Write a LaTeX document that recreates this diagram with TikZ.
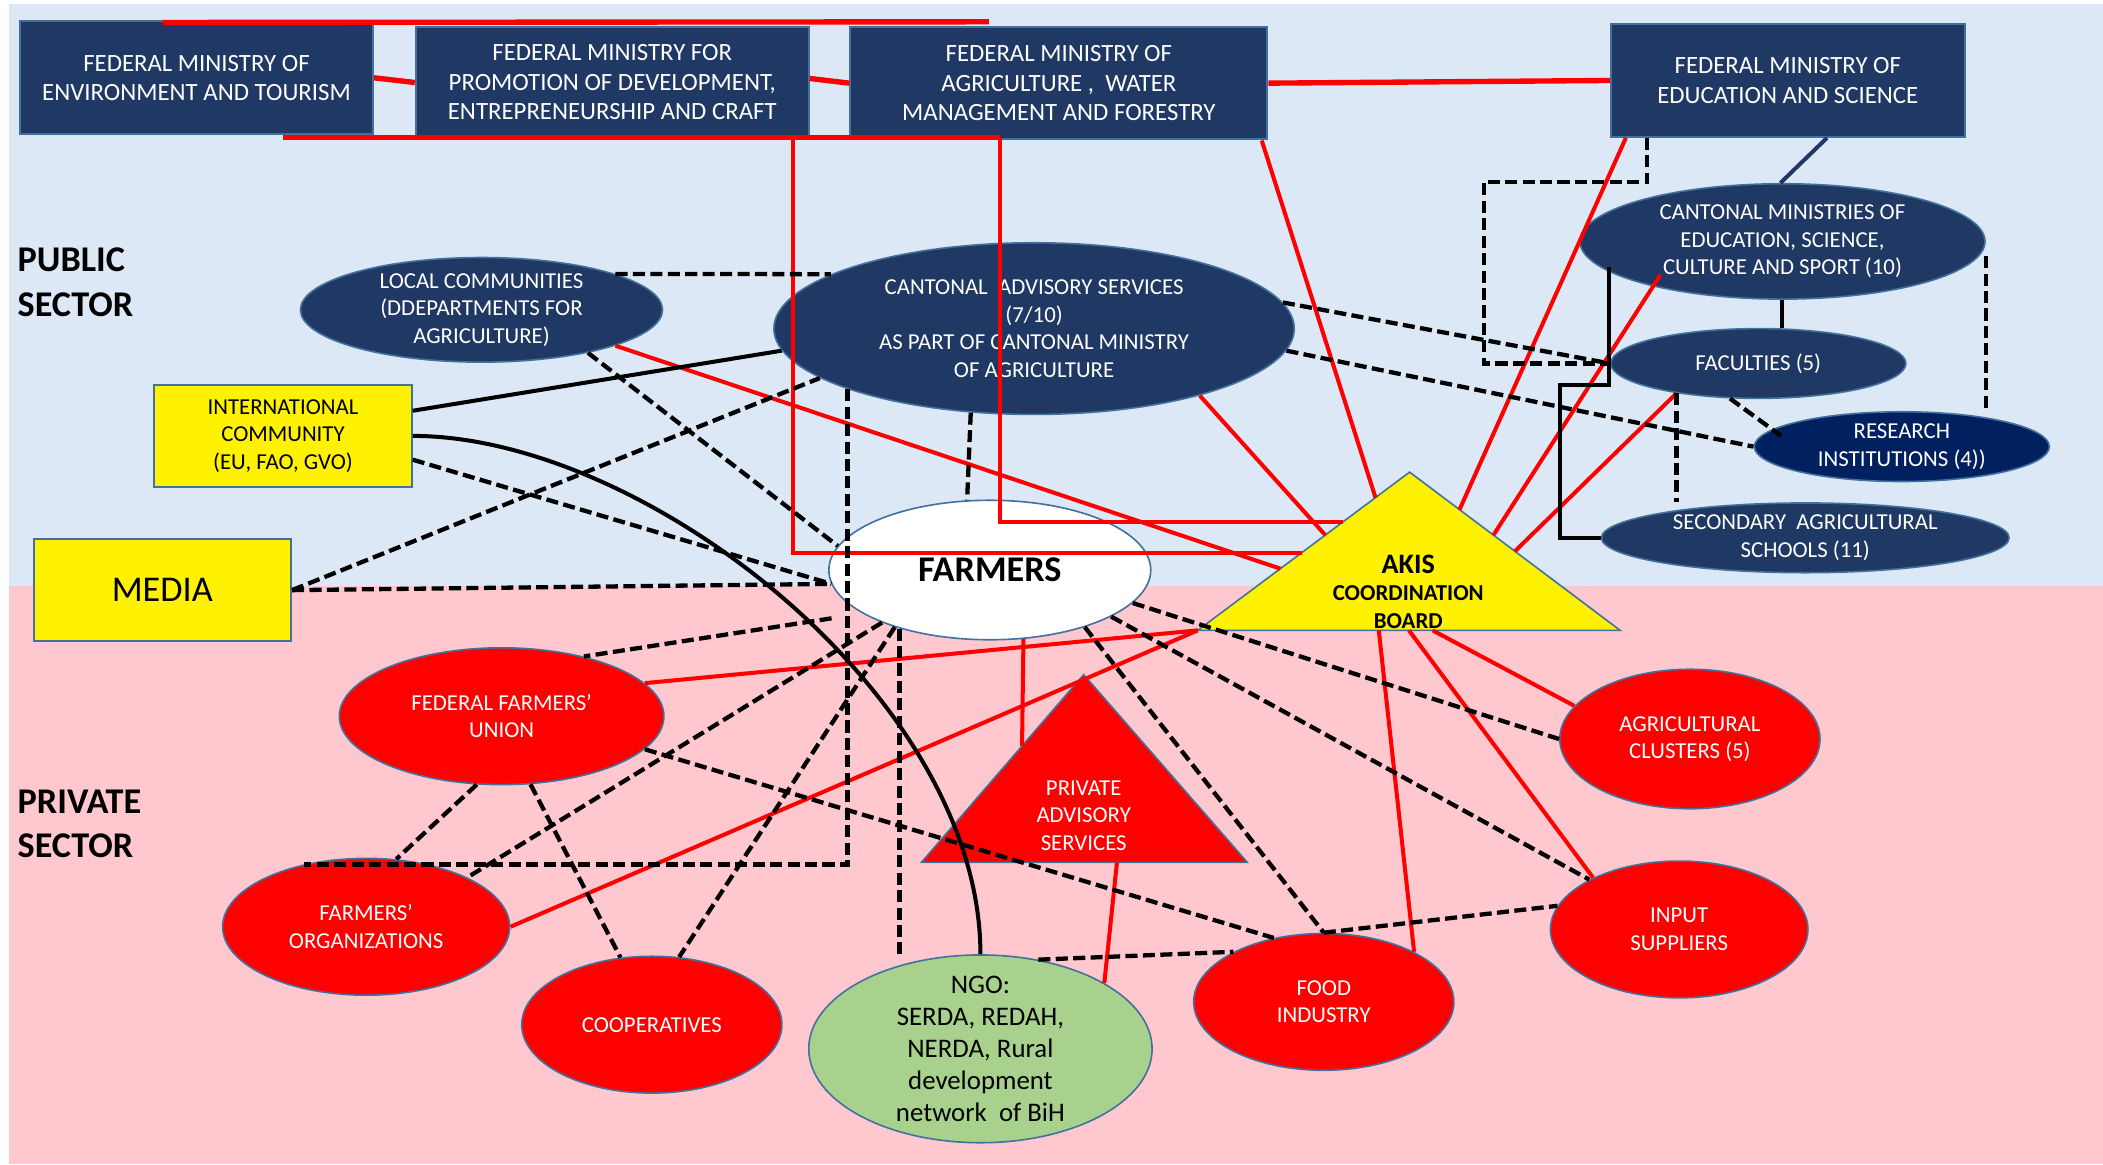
\documentclass[tikz,border=0pt]{standalone}
\usepackage{fontspec}
\setmainfont{Carlito}
\usetikzlibrary{shapes.geometric,calc}
\definecolor{navy}{HTML}{203864}
\definecolor{navyd}{HTML}{002060}
\definecolor{edgeblue}{HTML}{41719C}
\definecolor{bgblue}{HTML}{DDE8F6}
\definecolor{bgpink}{HTML}{FFC8CF}
\definecolor{ngogreen}{HTML}{A9D18E}
\tikzset{
  fs/.style={font=\fontsize{17}{20.5}\selectfont},
  navyell/.style={ellipse, draw=edgeblue, line width=1.2pt, fill=navy, text=white, inner sep=0pt, align=center, fs},
  redell/.style={ellipse, draw=edgeblue, line width=1.2pt, fill=red, text=white, inner sep=0pt, align=center, fs},
  navybox/.style={rectangle, draw=edgeblue, line width=1.5pt, fill=navy, text=white, inner sep=0pt, align=center, font=\fontsize{18.5}{22}\selectfont},
  yelbox/.style={rectangle, draw=edgeblue, line width=1.5pt, fill=yellow, text=black, inner sep=0pt, align=center},
  redln/.style={red, line width=3pt},
  redthick/.style={red, line width=4pt},
  dashln/.style={black, line width=3.2pt, dash pattern=on 9pt off 4pt},
  solidln/.style={black, line width=3pt},
  sector/.style={anchor=west, align=left, inner sep=0pt, font=\bfseries\fontsize{27}{33}\selectfont},
  trifill/.style={draw=edgeblue, line width=1.2pt},
}
\begin{document}
\begin{tikzpicture}[x=1pt,y=-1pt]
\useasboundingbox (0,0) rectangle (1568,868);
\fill[bgblue] (7,3) rectangle (1568,437);
\fill[bgpink] (7,437) rectangle (1568,868);

% sector labels
\node[sector] (pub) at (13,210.5) {PUBLIC\\SECTOR};
\node[sector] (priv) at (13,614.5) {PRIVATE\\SECTOR};

% ministries
\node[navybox, minimum width=263pt, minimum height=84pt] (fmet) at (146.5,58) {FEDERAL MINISTRY OF\\ENVIRONMENT AND TOURISM};
\node[navybox, minimum width=293pt, minimum height=83pt] (fmpd) at (456.5,61.5) {FEDERAL MINISTRY FOR\\PROMOTION OF DEVELOPMENT,\\ENTREPRENEURSHIP AND CRAFT};
\node[navybox, minimum width=311pt, minimum height=84pt] (fmaw) at (789.5,62) {FEDERAL MINISTRY OF\\AGRICULTURE ,\ \ WATER\\MANAGEMENT AND FORESTRY};
\node[navybox, minimum width=264pt, minimum height=84pt] (fmes) at (1333,60) {FEDERAL MINISTRY OF\\EDUCATION AND SCIENCE};

% public ellipses
\node[navyell, minimum width=270pt, minimum height=78pt] (lc) at (359,231) {LOCAL COMMUNITIES\\(DDEPARTMENTS FOR\\AGRICULTURE)};
\node[navyell, minimum width=388pt, minimum height=128pt] (cas) at (771,245) {CANTONAL\ \ ADVISORY SERVICES\\(7/10)\\AS PART OF CANTONAL MINISTRY\\OF AGRICULTURE};
\node[navyell, minimum width=302pt, minimum height=86pt] (cme) at (1329,180) {CANTONAL MINISTRIES OF\\EDUCATION, SCIENCE,\\CULTURE AND SPORT (10)};
\node[navyell, minimum width=220pt, minimum height=52pt] (fac) at (1311,271) {FACULTIES (5)};
\node[navyell, fill=navyd, minimum width=220pt, minimum height=52pt] (ri) at (1418,333) {RESEARCH\\INSTITUTIONS (4))};
\node[navyell, minimum width=304pt, minimum height=52pt] (sas) at (1346,401) {SECONDARY\ \ AGRICULTURAL\\SCHOOLS (11)};

% yellow boxes
\node[yelbox, fs, minimum width=192pt, minimum height=76pt] (ic) at (211,325) {INTERNATIONAL\\COMMUNITY\\(EU, FAO, GVO)};
\node[yelbox, font=\fontsize{27}{32}\selectfont, minimum width=192pt, minimum height=76pt] (media) at (121,440) {MEDIA};

% farmers
\node[ellipse, draw=edgeblue, line width=1.2pt, fill=white, inner sep=0pt, minimum width=240pt, minimum height=104pt, font=\bfseries\fontsize{27}{32}\selectfont] (farmers) at (738,425) {FARMERS};

% private ellipses
\node[redell, minimum width=242pt, minimum height=102pt] (ffu) at (374,534) {FEDERAL FARMERS’\\UNION};
\node[redell, minimum width=214pt, minimum height=102pt] (fo) at (273,691) {FARMERS’\\ORGANIZATIONS};
\node[redell, minimum width=194pt, minimum height=102pt] (coop) at (486,764) {COOPERATIVES};
\node[redell, minimum width=194pt, minimum height=102pt] (fi) at (987,747) {FOOD\\INDUSTRY};
\node[redell, minimum width=192pt, minimum height=102pt] (inp) at (1252,693) {INPUT\\SUPPLIERS};
\node[redell, minimum width=194pt, minimum height=104pt] (ac) at (1260,551) {AGRICULTURAL\\CLUSTERS (5)};
\node[ellipse, draw=edgeblue, line width=1.2pt, fill=ngogreen, inner sep=0pt, minimum width=256pt, minimum height=140pt] (ngo) at (731,782) {};
\node[align=center, inner sep=0pt, font=\fontsize{20}{24}\selectfont] (ngotext) at (ngo.center) {NGO:\\SERDA, REDAH,\\NERDA, Rural\\development\\network\ \ of BiH};

% triangles
\coordinate (akisA) at (1051,352);
\coordinate (akisL) at (893,470);
\coordinate (akisR) at (1208,470);
\filldraw[trifill, fill=yellow] (akisA) -- (akisL) -- (akisR) -- cycle;
\node[align=center, inner sep=0pt, font=\bfseries\fontsize{17}{20.5}\selectfont] (akis) at (1050,441) {{\fontsize{21}{23}\selectfont AKIS}\\COORDINATION\\BOARD};
\coordinate (pasA) at (808,503);
\coordinate (pasL) at (687,643);
\coordinate (pasR) at (930,643);
\filldraw[trifill, fill=red] (pasA) -- (pasL) -- (pasR) -- cycle;
\node[align=center, inner sep=0pt, text=white, fs] (pas) at (808,608) {PRIVATE\\ADVISORY\\SERVICES};

% ---- red connectors
\draw[redthick] (fmet.east) -- (fmpd.west);
\draw[redthick] ([yshift=3pt]fmpd.east) -- (fmaw.west);
\draw[redthick] (fmaw.east) -- (fmes.west);
\draw[redthick] ([xshift=107pt,yshift=-1.5pt]fmet.north west) -- ([xshift=104pt,yshift=3pt]fmaw.north west);
\draw[redthick] ([xshift=197pt,yshift=-2pt]fmet.south west) -- ([xshift=112pt,yshift=2pt]fmaw.south west);
\draw[redln] ([xshift=282pt,yshift=1pt]fmpd.south west) |- ($(akisA)!0.5085!(akisL)$);
\draw[redln] ([xshift=112pt,yshift=2pt]fmaw.south west) |- ($(akisA)!0.3136!(akisL)$);
\draw[redln] ([xshift=-5pt]fmaw.south east) -- ($(akisA)!0.161!(akisL)$);
\draw[redln] ([xshift=12pt]fmes.south west) -- ($(akisA)!0.237!(akisR)$);
\draw[redln] ([xshift=-91pt,yshift=-25pt]cme.center) -- ($(akisA)!0.398!(akisR)$);
\draw[redln] (fac.-160) -- ($(akisA)!0.5!(akisR)$);
\draw[redln] (cas.-22.8) -- ($(akisA)!0.398!(akisL)$);
\draw[redln] (lc.-15.4) -- ($(akisA)!0.61!(akisL)$);
\draw[redln] (ffu.13.8) -- (akisL);
\draw[redln] (fo.east) -- (akisL);
\draw[redln] ($(akisL)!0.4286!(akisR)$) -- (fi.29.2);
\draw[redln] ($(akisL)!0.5!(akisR)$) -- (inp.149.9);
\draw[redln] ($(akisL)!0.556!(akisR)$) -- (ac.164.4);
\draw[redln] (farmers.-64.8) -- ($(pasA)!0.38!(pasL)$);
\draw[redln] ($(pasL)!0.6!(pasR)$) -- (ngo.28.8);

% ---- solid black connectors
\draw[solidln] ([yshift=-20pt]ic.north east) -- (cas.185.4);
\draw[solidln] (ic.east) .. controls +(173,0) and +(0,-192) .. (ngo.north);
\draw[solidln] ([xshift=-129pt,yshift=-19pt]cme.center) -- ++(0,88) -- ++(-37,0) |- (sas.west);
\draw[solidln] (cme.south) -- (cme.south |- fac.north);
\draw[navy, line width=3pt] ([xshift=162pt]fmes.south west) -- (cme.92);

% ---- dashed connectors
\draw[dashln] (lc.15.7) -- (cas.165.1);
\draw[dashln] (lc.-22.2) -- (farmers.171.8);
\draw[dashln] ([yshift=21pt]ic.south east) -- (farmers.185);
\draw[dashln] (media.east) -- (farmers.185);
\draw[dashln] (media.east) -- (cas.193.1);
\draw[dashln] (cas.198.5) |- (fo.135);
\draw[dashln] (cas.-127.7) -- (farmers.108.3);
\draw[dashln] (cas.6.4) -- (fac.west);
\draw[dashln] (cas.-5.3) -- (ri.west);
\draw[dashln] ([xshift=28pt]fmes.south west) -- ++(0,33) -- ++(-122,0) |- (fac.west);
\draw[dashln] (fac.-129.5) -- ([xshift=-90pt,yshift=8pt]ri.center);
\draw[dashln] (fac.-160) -- (fac.-160 |- sas.north);
\coordinate (cmeR) at ([yshift=-11pt]cme.east);
\draw[dashln] (cmeR) -- (cmeR |- ri.north);
\draw[dashln] ([xshift=-118pt,yshift=-36pt]farmers.center) -- (ffu.36.3);
\draw[dashln] (farmers.206.6) -- (fo.26.3);
\draw[dashln] (farmers.211.2) -- (coop.68);
\draw[dashln] (farmers.213.3) -- (farmers.213.3 |- ngo.north);
\draw[dashln] (farmers.-31.9) -- (fi.north);
\draw[dashln] (farmers.-21.9) -- (inp.151.1);
\draw[dashln] (farmers.-13.3) -- (ac.west);
\draw[dashln] (ffu.-13) -- (fi.128.2);
\draw[dashln] (ffu.-110.7) -- (fo.66.2);
\draw[dashln] (ffu.-67.3) -- (coop.115.9);
\draw[dashln] (ngo.57.8) -- (fi.151.8);
\draw[dashln] (fi.north) -- (inp.169.2);
\end{tikzpicture}
\end{document}
